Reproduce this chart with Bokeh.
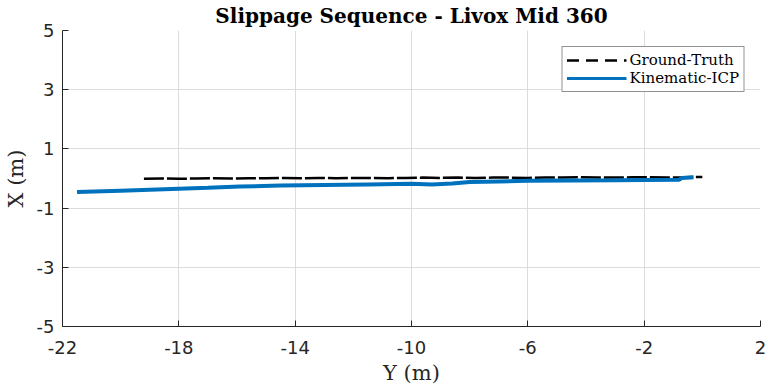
from bokeh.plotting import figure
from bokeh.models import FixedTicker, Legend, LegendItem, ColumnDataSource, CustomJSTickFormatter
from bokeh.embed import file_html
from bokeh.resources import INLINE

# Ground-Truth trajectory (Y, X) in metres
gt_y = [-19.2, -18.6, -18.0, -17.4, -16.8, -16.2, -15.6, -15.0, -14.4, -13.8, -13.2, -12.6,
        -12.0, -11.4, -10.8, -10.2, -9.6, -9.0, -8.4, -7.8, -7.2, -6.6, -6.0, -5.4, -4.8,
        -4.2, -3.6, -3.0, -2.4, -1.8, -1.2, -0.6, -0.2, 0.0]
gt_x = [-0.01, 0.00, -0.01, 0.00, 0.01, 0.00, 0.01, 0.01, 0.02, 0.01, 0.02, 0.01,
        0.02, 0.02, 0.01, 0.02, 0.03, 0.02, 0.03, 0.02, 0.03, 0.03, 0.02, 0.03, 0.03,
        0.04, 0.03, 0.03, 0.04, 0.04, 0.03, 0.04, 0.05, 0.05]

# Kinematic-ICP trajectory (Y, X) in metres
icp_y = [-21.5, -20.0, -18.5, -17.0, -15.9, -14.5, -13.0, -11.5, -10.0, -9.3, -8.6, -8.0,
         -7.0, -6.0, -4.5, -3.0, -2.0, -0.8, -0.7, -0.3]
icp_x = [-0.46, -0.41, -0.36, -0.31, -0.27, -0.24, -0.22, -0.20, -0.18, -0.20, -0.17, -0.12,
         -0.10, -0.08, -0.07, -0.06, -0.05, -0.04, 0.02, 0.04]

x_ticks = [-22, -18, -14, -10, -6, -2, 2]
y_ticks = [-5, -3, -1, 1, 3, 5]

p = figure(width=768, height=389, x_range=(-22, 2), y_range=(-5, 5),
           output_backend="svg", toolbar_location=None,
           title="Slippage Sequence - Livox Mid 360",
           min_border_left=62, min_border_right=8, min_border_top=30, min_border_bottom=63)

p.title.align = "center"
p.title.vertical_align = "top"
p.title.text_font = "DejaVu Serif"
p.title.text_font_size = "20px"
p.title.text_font_style = "bold"
p.title.text_color = "#000000"
p.title.standoff = 2

p.outline_line_color = None
p.background_fill_color = "white"
p.border_fill_color = "white"

fmt = CustomJSTickFormatter(code="return tick.toFixed(0);")
for ax in (p.xaxis[0], p.yaxis[0]):
    ax.axis_line_color = "#262626"
    ax.major_tick_line_color = "#262626"
    ax.major_tick_in = 6
    ax.major_tick_out = 0
    ax.minor_tick_line_color = None
    ax.major_label_text_font = "DejaVu Sans"
    ax.major_label_text_font_size = "18px"
    ax.major_label_text_color = "#262626"
    ax.axis_label_text_font = "DejaVu Serif"
    ax.axis_label_text_font_size = "21px"
    ax.axis_label_text_font_style = "normal"
    ax.axis_label_text_color = "#262626"
    ax.formatter = fmt

p.xaxis.ticker = FixedTicker(ticks=x_ticks)
p.yaxis.ticker = FixedTicker(ticks=y_ticks)
p.xaxis.axis_label = "Y (m)"
p.yaxis.axis_label = "X (m)"
p.xaxis.major_label_standoff = 14
p.yaxis.major_label_standoff = 8
p.xaxis.axis_label_standoff = 4
p.yaxis.axis_label_standoff = 6

p.grid.grid_line_color = "#dcdcdc"
p.grid.grid_line_width = 1

gt_src = ColumnDataSource(data=dict(y=gt_y, x=gt_x))
icp_src = ColumnDataSource(data=dict(y=icp_y, x=icp_x))

p.line("y", "x", source=gt_src, line_color="black", line_width=2.5, line_dash="20 3")
p.line("y", "x", source=icp_src, line_color="#0072BD", line_width=4)

# legend-only glyphs (single point: nothing is drawn in the plot)
leg_gt = p.line(x=[gt_y[0]], y=[gt_x[0]], line_color="black", line_width=2.5, line_dash="12 7")
leg_icp = p.line(x=[icp_y[0]], y=[icp_x[0]], line_color="#0072BD", line_width=3)

legend = Legend(items=[LegendItem(label="Ground-Truth", renderers=[leg_gt]),
                       LegendItem(label="Kinematic-ICP", renderers=[leg_icp])],
                location="top_right")
legend.label_text_font = "DejaVu Serif"
legend.label_text_font_size = "15px"
legend.label_text_color = "#000000"
legend.glyph_width = 60
legend.glyph_height = 18
legend.label_height = 18
legend.spacing = 0
legend.padding = 4
legend.margin = 16
legend.label_standoff = 3
legend.border_line_color = "#262626"
legend.border_line_width = 1
legend.background_fill_alpha = 1
p.add_layout(legend)

open("out.html", "w").write(file_html(p, INLINE))
